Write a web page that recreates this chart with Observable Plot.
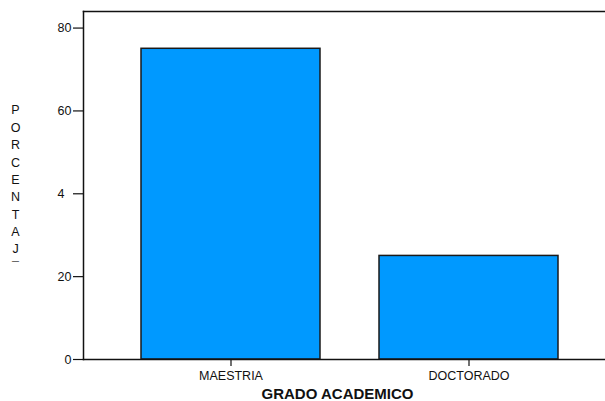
<!DOCTYPE html>
<html>
<head>
<meta charset="utf-8">
<script src="https://cdn.jsdelivr.net/npm/d3@7"></script>
<script src="https://cdn.jsdelivr.net/npm/@observablehq/plot@0.6"></script>
<style>
  html, body { margin: 0; padding: 0; background: #fff; overflow: hidden; }
  #chart { width: 605px; height: 401px; overflow: hidden; }
  #chart svg { max-width: none !important; }
</style>
</head>
<body>
<div id="chart"></div>
<script>
const categories = ["MAESTRIA", "DOCTORADO"];
const values = [75, 25];
const yTicks = [0, 20, 40, 60, 80];
const yTickLabels = ["0", "20", "4\u2007", "60", "80"];
const yLabel = "PORCENTAJ\u00AF";
const xLabel = "GRADO ACADEMICO";

const data = categories.map((c, i) => ({grado: c, pct: values[i]}));

const chart = Plot.plot({
  width: 612,
  height: 401,
  marginLeft: 83,
  marginRight: 0,
  marginTop: 11,
  marginBottom: 42,
  style: {fontFamily: "Liberation Sans, Arial, sans-serif", fontSize: "12.5px", background: "#fff", color: "#111", overflow: "hidden", maxWidth: "none"},
  x: {type: "band", domain: categories, range: [83, 615], paddingInner: 0.25, paddingOuter: 0.24},
  y: {domain: [0, 84]},
  marks: [
    Plot.barY(data, {x: "grado", y: "pct", fill: "#0099ff", stroke: "#1a1a1a", strokeWidth: 1.5}),
    Plot.frame({anchor: "top", stroke: "#111", strokeWidth: 1.5}),
    Plot.frame({anchor: "bottom", stroke: "#111", strokeWidth: 1.5}),
    Plot.frame({anchor: "left", stroke: "#111", strokeWidth: 1.5}),
    Plot.axisY(yTicks, {tickSize: 10, tickPadding: 2, tickFormat: (d) => yTickLabels[yTicks.indexOf(d)], label: null, stroke: "#111", strokeWidth: 1.2, fontSize: 12.5}),
    Plot.axisX({tickSize: 7, tickPadding: 5, label: null, stroke: "#111", strokeWidth: 1.2, fontSize: 12.5}),
    Plot.text([yLabel], {text: (d) => d.split("").join("\n"), frameAnchor: "left", dx: -68, dy: 1.5, lineHeight: 1.39, textAnchor: "middle", fontSize: 12.5, fill: "#111"}),
    Plot.text([xLabel], {frameAnchor: "bottom", dx: -10.5, dy: 39, lineAnchor: "bottom", fontSize: 15, fontWeight: "bold", fill: "#111"})
  ]
});
document.getElementById("chart").appendChild(chart);
</script>
</body>
</html>
